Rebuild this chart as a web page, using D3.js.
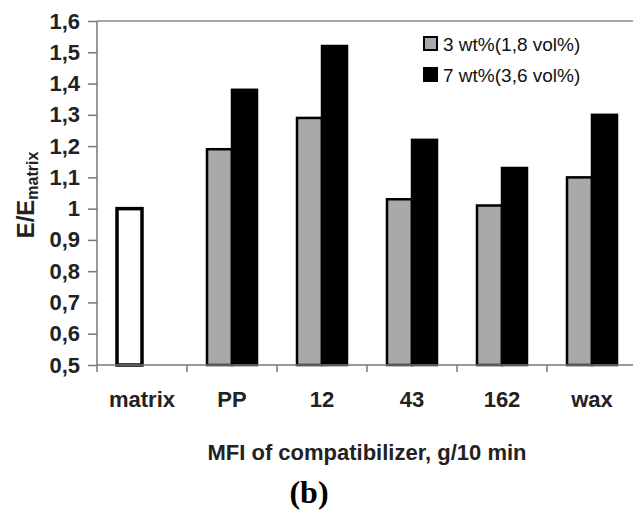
<!DOCTYPE html>
<html>
<head>
<meta charset="utf-8">
<script src="https://cdn.jsdelivr.net/npm/d3@7"></script>
<style>
  body { margin: 0; background: #fff; }
  svg { display: block; font-family: "Liberation Sans", Arial, sans-serif; }
  .axis path, .axis line { stroke: #777; stroke-width: 1.5; }
  .axis text { font-weight: bold; fill: #222; }
</style>
</head>
<body>
<script>
//chart data
var categories = ["matrix", "PP", "12", "43", "162", "wax"];
var series3 = [1.00, 1.19, 1.29, 1.03, 1.01, 1.10];
var series7 = [null, 1.38, 1.52, 1.22, 1.13, 1.30];
var seriesNames = ["3 wt%(1,8 vol%)", "7 wt%(3,6 vol%)"];
var yTicks = [0.5, 0.6, 0.7, 0.8, 0.9, 1.0, 1.1, 1.2, 1.3, 1.4, 1.5, 1.6];

window.onload = drawChart();

function drawChart(){

    var width = 633,
        height = 511;

    //plot frame (runs past the right edge, as in the original)
    var left = 97, right = 637, top = 21, bottom = 365;

    var svg = d3.select("body")
        .append("svg")
        .attr("width", width)
        .attr("height", height);

    var x = d3.scaleBand()
        .domain(categories)
        .range([left, right]);

    //two bar slots in each band, centred
    var slot = d3.scaleBand()
        .domain([0, 1])
        .range([20, 70]);

    var y = d3.scaleLinear()
        .domain([0.5, 1.6])
        .range([bottom, top]);

    var comma = d3.formatLocale({decimal: ",", thousands: ".", grouping: [3], currency: ["", ""]});
    var fmt = comma.format("~g");

    //top frame line
    svg.append("line")
        .attr("x1", left).attr("x2", right)
        .attr("y1", top).attr("y2", top)
        .attr("stroke", "#888")
        .attr("stroke-width", 1.5);

    //bars
    var rows = categories.map(function(c, i){
        return [series3[i], series7[i]].map(function(v, k){
            return {cat: c, k: k, v: v, white: c === "matrix"};
        });
    });
    var bars = [].concat.apply([], rows).filter(function(d){ return d.v !== null; });

    svg.selectAll(".bar")
        .data(bars)
        .enter()
        .append("rect")
        .attr("class", "bar")
        .attr("x", function(d){ return x(d.cat) + slot(d.k); })
        .attr("width", slot.bandwidth())
        .attr("y", function(d){ return y(d.v); })
        .attr("height", function(d){ return y(0.5) - y(d.v); })
        .attr("fill", function(d){ return d.white ? "#fff" : (d.k === 0 ? "#a9a9a9" : "#000"); })
        .attr("stroke", "#000")
        .attr("stroke-width", function(d){ return d.white ? 3.5 : 2.5; });

    //y axis
    svg.append("g")
        .attr("class", "axis")
        .attr("transform", "translate(" + left + ",0)")
        .call(d3.axisLeft(y).tickValues(yTicks).tickFormat(fmt).tickSize(9).tickPadding(8))
        .call(function(g){ g.select(".domain").attr("d", "M0," + top + "V" + bottom); })
        .selectAll("text")
        .attr("font-size", 22);

    //x axis, ticks at the band edges
    var xAxis = svg.append("g")
        .attr("class", "axis")
        .attr("transform", "translate(0," + bottom + ")");
    xAxis.append("path")
        .attr("d", "M" + left + ",0H" + right)
        .attr("fill", "none");
    xAxis.selectAll(".xtick")
        .data(categories)
        .enter()
        .append("line")
        .attr("class", "xtick")
        .attr("x1", function(d){ return x(d); })
        .attr("x2", function(d){ return x(d); })
        .attr("y1", 0).attr("y2", 7);
    xAxis.selectAll(".xlab")
        .data(categories)
        .enter()
        .append("text")
        .attr("class", "xlab")
        .attr("x", function(d){ return x(d) + x.bandwidth() / 2; })
        .attr("y", 42)
        .attr("text-anchor", "middle")
        .attr("font-size", 22)
        .text(function(d){ return d; });

    //axis titles
    svg.append("text")
        .attr("x", (left + right) / 2)
        .attr("y", 460)
        .attr("text-anchor", "middle")
        .attr("font-size", 22)
        .attr("font-weight", "bold")
        .attr("fill", "#222")
        .text("MFI of compatibilizer, g/10 min");

    var yTitle = svg.append("text")
        .attr("transform", "translate(34,195) rotate(-90)")
        .attr("text-anchor", "middle")
        .attr("font-weight", "bold")
        .attr("fill", "#222");
    yTitle.append("tspan").attr("font-size", 24).text("E/E");
    yTitle.append("tspan").attr("font-size", 16).attr("dy", 4).text("matrix");

    svg.append("text")
        .attr("x", 309)
        .attr("y", 503)
        .attr("text-anchor", "middle")
        .attr("font-family", "Liberation Serif, serif")
        .attr("font-size", 32)
        .attr("font-weight", "bold")
        .text("(b)");

    //legend
    var legend = svg.selectAll(".legend")
        .data(seriesNames)
        .enter()
        .append("g")
        .attr("class", "legend")
        .attr("transform", function(d, i){ return "translate(424," + (37 + i * 31) + ")"; });
    legend.append("rect")
        .attr("width", 13)
        .attr("height", 13)
        .attr("fill", function(d, i){ return i === 0 ? "#a9a9a9" : "#000"; })
        .attr("stroke", "#000")
        .attr("stroke-width", 2);
    legend.append("text")
        .attr("x", 19)
        .attr("y", 14)
        .attr("font-size", 19)
        .attr("fill", "#111")
        .text(function(d){ return d; });
};
</script>
</body>
</html>
